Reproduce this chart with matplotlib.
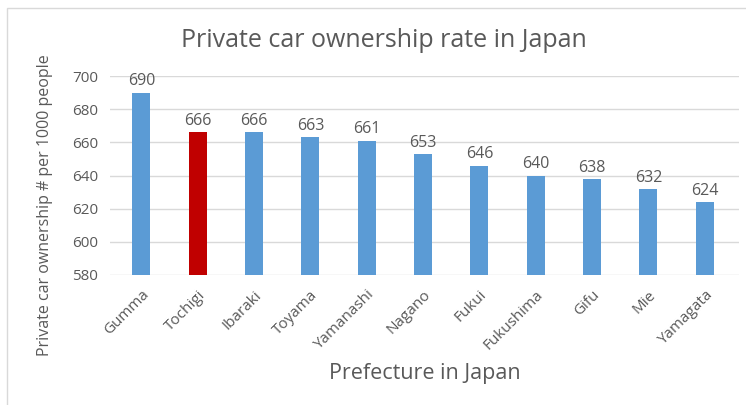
import matplotlib
matplotlib.use("Agg")
import matplotlib.pyplot as plt
from matplotlib.patches import Rectangle

prefectures = ["Gumma", "Tochigi", "Ibaraki", "Toyama", "Yamanashi", "Nagano",
               "Fukui", "Fukushima", "Gifu", "Mie", "Yamagata"]
ownership = [690, 666, 666, 663, 661, 653, 646, 640, 638, 632, 624]
highlight = "Tochigi"
yticks = [580, 600, 620, 640, 660, 680, 700]

blue = "#5B9BD5"
red = "#C00000"
gray = "#595959"

plt.rcParams["font.family"] = ["Open Sans", "DejaVu Sans"]

fig = plt.figure(figsize=(7.46, 4.05), dpi=100)
# outer chart frame (like the Excel chart border)
fig.patches.append(Rectangle((7 / 746, -0.1), 1.1, 1 - 8 / 405 + 0.1,
                             transform=fig.transFigure, fill=False,
                             edgecolor="#D9D9D9", lw=1))

ax = fig.add_axes([0.148, 0.321, 0.842, 0.491])
colors = [red if p == highlight else blue for p in prefectures]
x = range(len(prefectures))
ax.bar(x, ownership, width=0.32, color=colors, zorder=2)

for i, v in enumerate(ownership):
    ax.text(i, v + 2.0, str(v), ha="center", va="bottom", fontsize=11.5, color=gray)

ax.set_ylim(580, 700)
ax.set_xlim(-0.55, 10.6)
ax.set_yticks(yticks)
ax.set_yticklabels([str(t) for t in yticks], fontsize=11, color=gray)
ax.set_xticks(list(x))
ax.set_xticklabels(prefectures, rotation=45, ha="right", rotation_mode="anchor",
                   fontsize=11, color=gray)
ax.tick_params(axis="y", length=0, pad=9)
ax.tick_params(axis="x", length=0, pad=9)
ax.grid(axis="y", color="#D9D9D9", lw=1, zorder=0)
for s in ax.spines.values():
    s.set_visible(False)

fig.text(0.515, 0.9, "Private car ownership rate in Japan", ha="center",
         va="center", fontsize=18, color=gray)
fig.text(0.569, 0.079, "Prefecture in Japan", ha="center", va="center",
         fontsize=15.5, color=gray)
fig.text(0.06, 0.494, "Private car ownership # per 1000 people", ha="center",
         va="center", rotation=90, fontsize=11.5, color=gray)

fig.savefig("out.png", dpi=100)
